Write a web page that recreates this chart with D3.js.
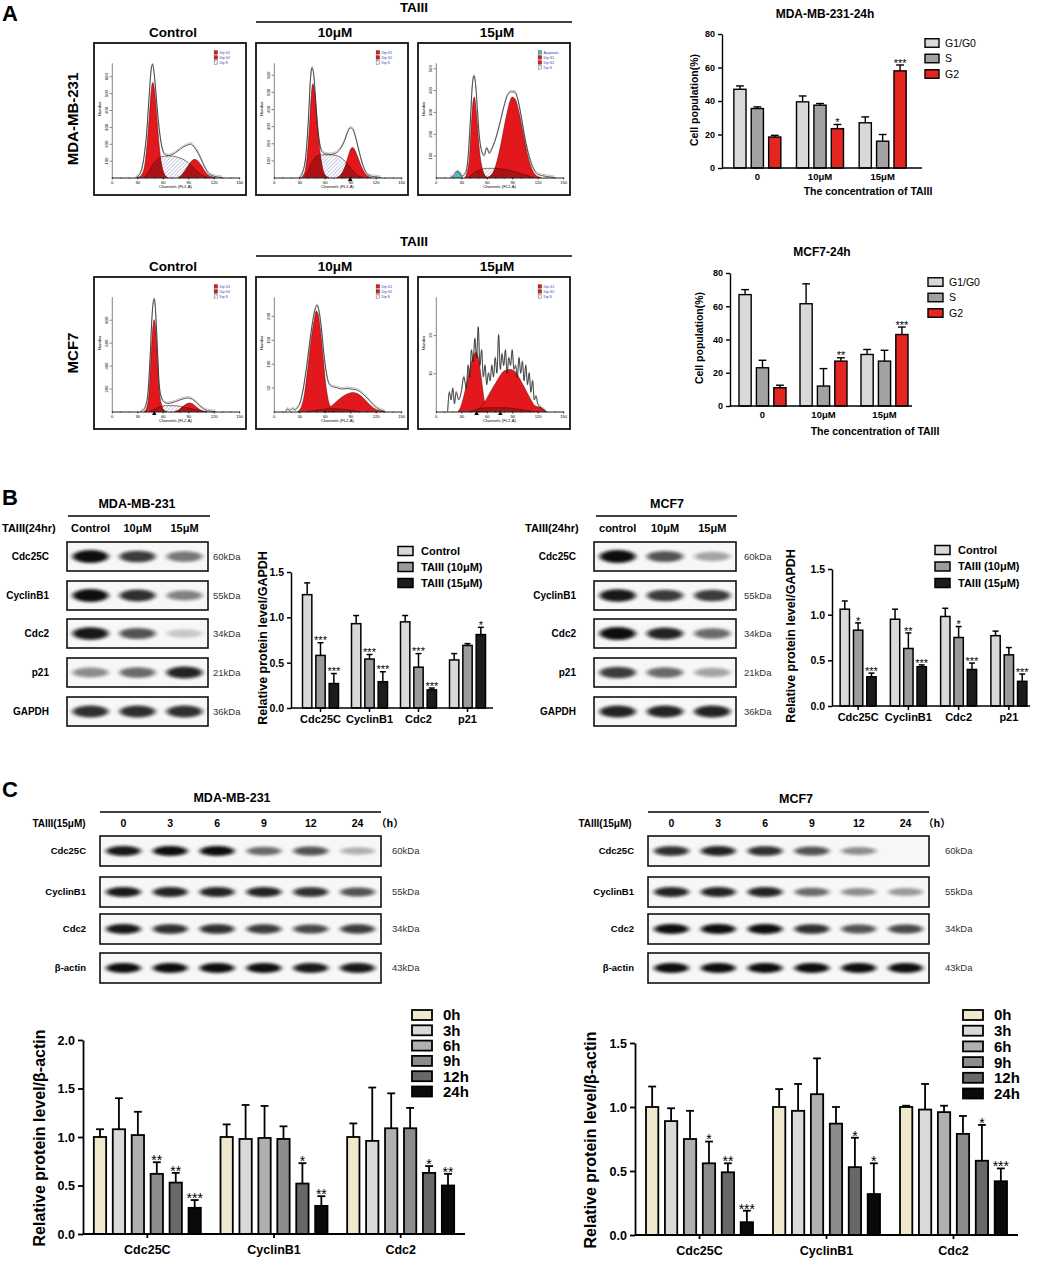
<!DOCTYPE html>
<html><head><meta charset="utf-8">
<script src="https://cdn.jsdelivr.net/npm/d3@7"></script>
<style>
html,body{margin:0;padding:0;background:#fff;}
svg{display:block;}
</style></head><body>
<svg id="fig" width="1038" height="1261"></svg>
<script>
const FONT = "'Liberation Sans', Arial, sans-serif";
const NARROW = "'Liberation Sans Narrow', 'Liberation Sans', Arial, sans-serif";

// ---------------- Panel A : flow histograms (channel, count) ----------------
const flowConds = ["Control", "10μM", "15μM"];
const flowCells = ["MDA-MB-231", "MCF7"];
const mdaCtrlG1 = [[30,0],[35,15],[39,80],[42,220],[45,420],[47,540],[48.5,563],[50,530],[52,430],[54,300],[56,180],[59,70],[62,20],[66,0]];
const mdaCtrlS  = [[38,0],[43,30],[48,75],[54,110],[60,125],[68,128],[76,122],[84,108],[90,88],[96,60],[102,30],[108,10],[114,0]];
const mdaCtrlG2 = [[78,0],[83,20],[88,55],[93,92],[97,108],[101,100],[105,75],[109,42],[113,18],[118,4],[122,0]];
const mdaCtrlTot = [[28,0],[33,20],[37,90],[41,260],[44,480],[46,620],[48,670],[50,610],[52,500],[54,380],[57,240],[60,160],[63,135],[67,130],[72,138],[78,158],[84,180],[89,192],[93,198],[97,180],[101,150],[105,110],[109,65],[113,30],[118,12],[124,4],[130,0]];
const mda10G1 = [[32,0],[36,25],[39,110],[42,300],[44,470],[46,548],[48,510],[50,400],[52,270],[55,130],[58,45],[61,12],[65,0]];
const mda10S  = [[36,0],[40,35],[45,90],[50,122],[56,132],[64,133],[72,130],[78,120],[84,95],[90,60],[95,30],[100,10],[105,0]];
const mda10G2 = [[74,0],[79,18],[84,65],[88,130],[91,170],[93,175],[96,155],[100,105],[104,55],[108,20],[112,5],[115,0]];
const mda10Tot = [[30,0],[34,30],[38,140],[41,360],[43,560],[45,640],[47,600],[49,470],[51,330],[54,200],[57,150],[61,138],[66,135],[72,140],[78,165],[83,210],[87,265],[90,290],[93,282],[96,240],[100,160],[104,85],[108,35],[112,12],[118,5],[123,3],[126,0]];
const mda15Apo = [[20,0],[23,10],[26,27],[28,18],[31,0]];
const mda15G1 = [[34,0],[37,25],[40,110],[42,250],[44,350],[45.5,368],[47,330],[49,240],[51,140],[54,55],[57,15],[61,0]];
const mda15S  = [[38,0],[44,18],[52,35],[60,42],[70,42],[80,38],[90,30],[100,18],[110,6],[116,0]];
const mda15G2 = [[60,0],[66,15],[71,60],[76,140],[81,240],[86,330],[90,368],[94,355],[98,300],[103,200],[108,105],[113,40],[118,10],[124,0]];
const mda15Tot = [[17,0],[21,8],[25,28],[28,22],[31,6],[35,20],[38,90],[41,280],[43,420],[45,465],[47,420],[49,310],[51,200],[54,120],[57,100],[60,135],[63,110],[66,130],[70,170],[75,240],[80,320],[85,380],[89,392],[93,390],[97,350],[101,270],[105,180],[110,95],[115,40],[120,15],[126,8],[134,3],[140,0]];
const mcfCtrlG1 = [[38,0],[41,30],[44,180],[46,450],[48,700],[50,800],[52,690],[54,420],[56,180],[59,50],[62,8],[65,0]];
const mcfCtrlS  = [[44,0],[50,20],[56,40],[62,50],[70,52],[78,48],[86,38],[94,24],[102,10],[108,0]];
const mcfCtrlG2 = [[74,0],[79,15],[84,45],[89,70],[92,74],[96,62],[100,38],[104,16],[108,4],[112,0]];
const mcfCtrlTot = [[34,0],[38,20],[42,120],[45,450],[47,780],[49,960],[50,980],[52,820],[54,500],[56,220],[59,110],[62,80],[66,70],[72,78],[78,95],[84,110],[90,118],[95,105],[100,75],[105,40],[110,15],[116,4],[122,0]];
const mcf10G1 = [[28,0],[32,8],[36,35],[40,90],[44,150],[48,195],[50,210],[52,205],[55,170],[58,115],[61,60],[64,25],[68,6],[72,0]];
const mcf10S  = [[40,0],[50,3],[60,5],[70,6],[80,5],[90,3],[100,0]];
const mcf10G2 = [[58,0],[65,8],[72,18],[80,30],[87,37],[93,40],[99,37],[105,29],[111,18],[117,8],[124,2],[130,0]];
const mcf10Tot = [[14,0],[16,5],[19,2],[22,6],[25,3],[28,8],[31,18],[34,40],[38,85],[42,140],[46,190],[49,215],[51,222],[53,212],[56,175],[59,120],[62,80],[65,58],[69,52],[74,50],[80,47],[86,48],[91,47],[96,46],[101,42],[106,35],[111,26],[116,16],[121,8],[126,3],[131,0]];
const mcf15G1 = [[26,0],[29,1],[33,4],[37,8],[41,12],[45,15],[48,15.5],[51,13],[54,8],[57,3],[60,0]];
const mcf15S  = [[40,0],[60,1],[80,1],[100,0.5],[115,0]];
const mcf15G2 = [[48,0],[56,2],[64,5],[72,8],[80,10.5],[87,11],[93,10.5],[99,8.5],[105,6],[111,3.5],[117,1.5],[124,1],[130,0]];
const mcf15Tot = [[14,0],[16,5],[18,3],[20,6],[22,2],[24,5],[27,3],[30,5],[33,9],[36,6],[38,12],[40,9],[42,16],[44,13],[46,19],[48,14],[50,22],[52,12],[54,16],[56,9],[58,12],[60,7],[62,10],[64,8],[66,12],[68,9],[70,14],[72,10],[74,20],[76,11],[78,15],[80,12],[82,16],[84,10],[86,14],[88,12],[90,16],[92,11],[94,12],[96,9],[98,14],[100,10],[102,13],[104,8],[106,12],[108,7],[110,10],[112,5],[114,8],[116,3],[118,4],[120,2],[124,1],[130,0]];
const flowYMax = [[680, 670, 525], [1000, 240, 30]];
const flowYTicks = [[[100,200,300,400,500,600],[100,200,300,400,500,600],[100,200,300,400,500]],[[200,400,600,800],[50,100,150,200],[10,20]]];
const flowMarkers = [[[], [90], []], [[50], [], [48, 76]]];
const flowXTicks = [0, 30, 60, 90, 120, 150];

// ---------------- Panel A : phase distribution bars ----------------
const phases = ["G1/G0", "S", "G2"];
const concLabels = ["0", "10μM", "15μM"];
const mdaPhaseMean = [[47, 35.5, 18.5], [39.5, 37.5, 23.5], [27, 16, 58]];
const mdaPhaseErr  = [[2, 1, 1], [3.5, 1, 2.5], [3.5, 4, 3.5]];
const mdaPhaseSig  = [["", "", ""], ["", "", "*"], ["", "", "***"]];
const mcfPhaseMean = [[67, 23, 11], [61.5, 12, 27], [31, 27, 43]];
const mcfPhaseErr  = [[3, 4.5, 1.5], [12, 10.5, 2], [3, 6.5, 4.5]];
const mcfPhaseSig  = [["", "", ""], ["", "", "**"], ["", "", "***"]];
const phaseTicks = [0, 20, 40, 60, 80];

// ---------------- Panel B ----------------
const blotBProteins = ["Cdc25C", "CyclinB1", "Cdc2", "p21", "GAPDH"];
const blotBkDa = ["60kDa", "55kDa", "34kDa", "21kDa", "36kDa"];
const blotBLanesMda = ["Control", "10μM", "15μM"];
const blotBLanesMcf = ["control", "10μM", "15μM"];
const blotBMda = [[1, 0.8, 0.55], [1, 0.85, 0.5], [0.95, 0.7, 0.2], [0.45, 0.6, 0.9], [0.85, 0.85, 0.85]];
const blotBMcf = [[1, 0.7, 0.35], [0.95, 0.8, 0.8], [1, 0.9, 0.6], [0.8, 0.6, 0.35], [0.9, 0.9, 0.9]];
const proteinsB = ["Cdc25C", "CyclinB1", "Cdc2", "p21"];
const treatB = ["Control", "TAIII (10μM)", "TAIII (15μM)"];
const mdaB    = [[1.25, 0.58, 0.27], [0.93, 0.54, 0.29], [0.95, 0.45, 0.20], [0.53, 0.69, 0.81]];
const mdaBErr = [[0.13, 0.14, 0.11], [0.09, 0.05, 0.11], [0.07, 0.15, 0.02], [0.07, 0.02, 0.08]];
const mdaBSig = [["", "***", "***"], ["", "***", "***"], ["", "***", "***"], ["", "", "*"]];
const mcfB    = [[1.06, 0.83, 0.32], [0.95, 0.63, 0.43], [0.98, 0.75, 0.40], [0.77, 0.56, 0.27]];
const mcfBErr = [[0.09, 0.08, 0.04], [0.11, 0.17, 0.02], [0.09, 0.12, 0.07], [0.05, 0.08, 0.08]];
const mcfBSig = [["", "*", "***"], ["", "**", "***"], ["", "*", "***"], ["", "", "***"]];
const relTicks15 = [0, 0.5, 1.0, 1.5];

// ---------------- Panel C ----------------
const blotCProteins = ["Cdc25C", "CyclinB1", "Cdc2", "β-actin"];
const blotCkDa = ["60kDa", "55kDa", "34kDa", "43kDa"];
const blotCLanes = ["0", "3", "6", "9", "12", "24"];
const blotCMda = [[0.95, 1, 1, 0.6, 0.7, 0.3], [0.95, 0.9, 0.9, 0.9, 0.85, 0.7], [0.95, 0.85, 0.85, 0.8, 0.75, 0.8], [1, 1, 1, 1, 0.95, 0.95]];
const blotCMcf = [[0.85, 0.9, 0.85, 0.7, 0.45, 0], [0.9, 0.9, 0.9, 0.6, 0.45, 0.4], [1, 1, 1, 0.85, 0.7, 0.75], [1, 1, 1, 1, 1, 1]];
const hoursC = ["0h", "3h", "6h", "9h", "12h", "24h"];
const proteinsC = ["Cdc25C", "CyclinB1", "Cdc2"];
const mdaC    = [[1.0, 1.08, 1.02, 0.62, 0.53, 0.27], [1.0, 0.98, 0.99, 0.98, 0.52, 0.29], [1.0, 0.96, 1.09, 1.09, 0.63, 0.50]];
const mdaCErr = [[0.08, 0.32, 0.24, 0.12, 0.10, 0.08], [0.13, 0.35, 0.33, 0.13, 0.21, 0.10], [0.14, 0.55, 0.36, 0.21, 0.07, 0.12]];
const mdaCSig = [["", "", "", "**", "**", "***"], ["", "", "", "", "*", "**"], ["", "", "", "", "*", "**"]];
const mcfC    = [[1.0, 0.89, 0.75, 0.56, 0.49, 0.10], [1.0, 0.97, 1.10, 0.87, 0.53, 0.32], [1.0, 0.98, 0.96, 0.79, 0.58, 0.42]];
const mcfCErr = [[0.16, 0.10, 0.22, 0.17, 0.07, 0.09], [0.14, 0.21, 0.28, 0.13, 0.23, 0.24], [0.01, 0.20, 0.05, 0.14, 0.28, 0.10]];
const mcfCSig = [["", "", "", "*", "**", "***"], ["", "", "", "", "*", "*"], ["", "", "", "", "*", "***"]];
const relTicks20 = [0, 0.5, 1.0, 1.5, 2.0];

// colours
const phaseColors = ["#d9d9d9", "#a2a2a5", "#e42620"];
const treatColors = ["#d9d9d9", "#9b9b9b", "#1c1c1c"];
const hourColors = ["#efe8cc", "#d9d9d9", "#b0b0b2", "#8c8c8e", "#68686a", "#0a0a0a"];

// =====================================================================
const svg = d3.select("#fig").attr("font-family", FONT);
const defs = svg.append("defs");
const pat = defs.append("pattern").attr("id", "hatch").attr("patternUnits", "userSpaceOnUse")
  .attr("width", 2.6).attr("height", 2.6).attr("patternTransform", "rotate(45)");
pat.append("rect").attr("width", 2.6).attr("height", 2.6).attr("fill", "#fff");
pat.append("line").attr("x1", 0).attr("y1", 0).attr("x2", 0).attr("y2", 2.6).attr("stroke", "#4753a6").attr("stroke-width", 0.6);
defs.append("filter").attr("id", "blur").attr("x", "-50%").attr("y", "-150%").attr("width", "200%").attr("height", "400%")
  .append("feGaussianBlur").attr("stdDeviation", "2.4 1.5");

function txt(g, x, y, s, o = {}) {
  const t = g.append("text").attr("x", x).attr("y", y).text(s)
    .attr("font-size", o.size || 10).attr("font-weight", o.weight || "bold")
    .attr("text-anchor", o.anchor || "middle").attr("fill", o.fill || "#000");
  if (o.family) t.attr("font-family", o.family);
  if (o.rotate) t.attr("transform", `rotate(-90,${x},${y})`);
  return t;
}
function styleAxis(ax, size, weight, sw) {
  ax.attr("font-size", size).attr("font-family", FONT).attr("font-weight", weight);
  ax.selectAll("text").attr("fill", "#000");
  ax.selectAll("line").attr("stroke", "#000").attr("stroke-width", sw);
  ax.select(".domain").attr("stroke", "#000").attr("stroke-width", sw);
}

// ---------------- flow histogram drawing ----------------
let clipId = 0;
function flowPlot(box, d) {
  const g = svg.append("g");
  g.append("rect").attr("x", box.x).attr("y", box.y).attr("width", box.w).attr("height", box.h)
    .attr("fill", "#fff").attr("stroke", "#111").attr("stroke-width", 1.8);
  const x = d3.scaleLinear().domain([0, 150]).range([box.x + box.w * 0.117, box.x + box.w * 0.955]);
  const y = d3.scaleLinear().domain([0, d.yMax]).range([box.y + box.h * 0.885, box.y + box.h * 0.13]);
  const area = d3.area().x(p => x(p[0])).y0(y(0)).y1(p => y(p[1])).curve(d3.curveMonotoneX);
  const line = d3.line().x(p => x(p[0])).y(p => y(p[1])).curve(d3.curveMonotoneX);
  g.append("path").attr("d", area(d.s)).attr("fill", "url(#hatch)");
  const cid = "fc" + (clipId++);
  const cp = defs.append("clipPath").attr("id", cid);
  [d.g1, d.g2].forEach(a => {
    g.append("path").attr("d", area(a)).attr("fill", "#e2181c").attr("stroke", "#5a0808").attr("stroke-width", 0.5);
    cp.append("path").attr("d", area(a));
  });
  g.append("path").attr("d", area(d.s)).attr("fill", "#6a0a0a").attr("opacity", 0.45).attr("clip-path", `url(#${cid})`);
  g.append("path").attr("d", line(d.s)).attr("fill", "none").attr("stroke", "#5a0a0a").attr("stroke-width", 0.6);
  if (d.apo) g.append("path").attr("d", area(d.apo)).attr("fill", "#3cc3cc").attr("stroke", "#0a5a5a").attr("stroke-width", 0.4);
  g.append("path").attr("d", line(d.tot)).attr("fill", "none").attr("stroke", "#888").attr("stroke-width", 0.5).attr("transform", "translate(0,-1.5)");
  g.append("path").attr("d", line(d.tot)).attr("fill", "none").attr("stroke", "#1a1a1a").attr("stroke-width", 0.75);
  // axes
  const xm = g.append("g").attr("transform", `translate(0,${y(0)})`)
    .call(d3.axisBottom(x).tickValues(d3.range(0, 151, 10)).tickSize(1.2).tickFormat("").tickSizeOuter(0));
  styleAxis(xm, 4, "normal", 0.5);
  const xa = g.append("g").attr("transform", `translate(0,${y(0)})`)
    .call(d3.axisBottom(x).tickValues(flowXTicks).tickSize(2.2).tickPadding(1.5).tickSizeOuter(0));
  styleAxis(xa, 4.2, "normal", 0.5);
  const ya = g.append("g").attr("transform", `translate(${x(0)},0)`)
    .call(d3.axisLeft(y).tickValues(d.yTicks).tickSize(2.2).tickPadding(1.5).tickSizeOuter(0));
  styleAxis(ya, 4.2, "normal", 0.5);
  ya.selectAll(".tick text").attr("text-anchor", "middle").attr("dy", 0).attr("x", -4)
    .attr("transform", "rotate(-90,-4,0)");
  d.markers.forEach(m => g.append("path").attr("d", d3.symbol(d3.symbolTriangle, 9)())
    .attr("transform", `translate(${x(m)},${y(0) + 2.2})`).attr("fill", "#000"));
  txt(g, x(75), box.y + box.h * 0.955, "Channels (FL2-A)", { size: 4.2, weight: "normal" });
  txt(g, box.x + box.w * 0.045, y(d.yMax * 0.6), "Number", { size: 4.2, weight: "normal", rotate: true });
  // legend
  const lx = box.x + box.w * 0.79;
  d.legend.forEach((l, i) => {
    const ly = box.y + box.h * (0.05 + i * 0.033);
    g.append("rect").attr("x", lx).attr("y", ly).attr("width", 3.6).attr("height", 3.6)
      .attr("fill", l.fill).attr("stroke", "#222").attr("stroke-width", 0.3);
    txt(g, lx + 5.5, ly + 3.1, l.name, { size: 3.4, weight: "normal", anchor: "start", fill: "#2a3aa8" });
  });
}

const flowBoxX = [94, 256, 418], flowBoxW = 152, flowBoxH = 152, flowRowY = [43, 277];
const flowSeries = [
  [{ g1: mdaCtrlG1, s: mdaCtrlS, g2: mdaCtrlG2, tot: mdaCtrlTot }, { g1: mda10G1, s: mda10S, g2: mda10G2, tot: mda10Tot }, { g1: mda15G1, s: mda15S, g2: mda15G2, tot: mda15Tot, apo: mda15Apo }],
  [{ g1: mcfCtrlG1, s: mcfCtrlS, g2: mcfCtrlG2, tot: mcfCtrlTot }, { g1: mcf10G1, s: mcf10S, g2: mcf10G2, tot: mcf10Tot }, { g1: mcf15G1, s: mcf15S, g2: mcf15G2, tot: mcf15Tot }]
];
const baseLegend = [{ name: "Dip G1", fill: "#e2181c" }, { name: "Dip G2", fill: "#e2181c" }, { name: "Dip S", fill: "url(#hatch)" }];

txt(svg, 2, 21, "A", { size: 22, anchor: "start" });
flowCells.forEach((cell, r) => {
  const by = flowRowY[r];
  txt(svg, 414, by - 31, "TAIII", { size: 13.5, family: NARROW });
  svg.append("line").attr("x1", 256).attr("x2", 572).attr("y1", by - 21).attr("y2", by - 21).attr("stroke", "#000").attr("stroke-width", 1.5);
  txt(svg, 73, by + 76, cell, { size: 15, family: NARROW, rotate: true }).attr("dy", "0.35em");
  flowConds.forEach((cond, c) => {
    const box = { x: flowBoxX[c], y: by, w: flowBoxW, h: flowBoxH };
    txt(svg, box.x + box.w / 2 + 3, by - 6, cond, { size: 13.5, family: NARROW });
    const s = flowSeries[r][c];
    const legend = s.apo ? [{ name: "Apoptosis", fill: "#3cc3cc" }].concat(baseLegend) : baseLegend;
    flowPlot(box, Object.assign({}, s, { yMax: flowYMax[r][c], yTicks: flowYTicks[r][c], markers: flowMarkers[r][c], legend }));
  });
});

// ---------------- generic grouped bar chart ----------------
function barChart(c) {
  const g = svg.append("g");
  const y = d3.scaleLinear().domain([0, c.yMax]).range([c.yBase, c.yTop]);
  const x0 = d3.scaleBand().domain(c.groups).range(c.band);
  const x1 = d3.scaleBand().domain(d3.range(c.colors.length)).range([-c.half, c.half]).paddingInner(c.pad);
  const bw = x1.bandwidth();
  c.groups.forEach((grp, gi) => {
    const gc = x0(grp) + x0.bandwidth() / 2;
    c.colors.forEach((col, si) => {
      const v = c.means[gi][si], e = c.errs[gi][si];
      const bx = gc + x1(si), mx = bx + bw / 2;
      g.append("line").attr("x1", mx).attr("x2", mx).attr("y1", y(v)).attr("y2", y(v + e)).attr("stroke", "#000").attr("stroke-width", c.sw);
      g.append("line").attr("x1", mx - bw * 0.32).attr("x2", mx + bw * 0.32).attr("y1", y(v + e)).attr("y2", y(v + e)).attr("stroke", "#000").attr("stroke-width", c.sw);
      g.append("rect").attr("x", bx).attr("y", y(v)).attr("width", bw).attr("height", c.yBase - y(v))
        .attr("fill", col).attr("stroke", "#000").attr("stroke-width", c.sw);
      const s = c.sigs[gi][si];
      if (s) txt(g, mx, y(v + e) - 3 + c.starSize * 0.42, s, { size: c.starSize, weight: "normal" });
    });
  });
  g.append("line").attr("x1", c.axisX).attr("x2", c.axisEnd).attr("y1", c.yBase).attr("y2", c.yBase).attr("stroke", "#000").attr("stroke-width", c.sw);
  const xa = g.append("g").attr("transform", `translate(0,${c.yBase})`)
    .call(d3.axisBottom(x0).tickSize(c.xTick).tickPadding(c.xPad).tickSizeOuter(0));
  styleAxis(xa, c.xSize, "bold", c.sw);
  xa.select(".domain").remove();
  const ya = g.append("g").attr("transform", `translate(${c.axisX},0)`)
    .call(d3.axisLeft(y).tickValues(c.yTicks).tickFormat(c.fmt).tickSize(c.yTick).tickPadding(c.yPad).tickSizeOuter(0));
  styleAxis(ya, c.ySize, "bold", c.sw);
  txt(g, c.titleX, c.titleY, c.yTitle, { size: c.titleSize, rotate: true });
  c.legendNames.forEach((nm, i) => {
    const cy = c.legY[0] + i * c.legY[1];
    g.append("rect").attr("x", c.legX).attr("y", cy - c.legH / 2).attr("width", c.legW).attr("height", c.legH)
      .attr("fill", c.colors[i]).attr("stroke", "#000").attr("stroke-width", c.sw);
    txt(g, c.legX + c.legW + c.legGap, cy + c.legSize * 0.36, nm, { size: c.legSize, weight: c.legWeight, anchor: "start" });
  });
  return g;
}

// Panel A bar charts
txt(svg, 825, 18, "MDA-MB-231-24h", { size: 12 });
barChart({ groups: concLabels, colors: phaseColors, means: mdaPhaseMean, errs: mdaPhaseErr, sigs: mdaPhaseSig,
  yMax: 80, yBase: 168, yTop: 34, band: [726, 914], half: 23.5, pad: 0.3, sw: 1.4, starSize: 11,
  axisX: 722, axisEnd: 922, xTick: 0, xPad: 5.5, xSize: 9.5, yTicks: phaseTicks, fmt: d3.format("d"), yTick: 4, yPad: 3, ySize: 9,
  titleX: 698, titleY: 100, yTitle: "Cell population(%)", titleSize: 10.5,
  legendNames: phases, legX: 925, legY: [43, 15.5], legW: 14, legH: 8.5, legGap: 6, legSize: 10.5, legWeight: "normal" });
txt(svg, 868, 195, "The concentration of TAIII", { size: 10.5 });

txt(svg, 822, 256, "MCF7-24h", { size: 12 });
barChart({ groups: concLabels, colors: phaseColors, means: mcfPhaseMean, errs: mcfPhaseErr, sigs: mcfPhaseSig,
  yMax: 80, yBase: 406, yTop: 273, band: [732, 915], half: 23.5, pad: 0.3, sw: 1.4, starSize: 11,
  axisX: 730, axisEnd: 912, xTick: 0, xPad: 5.5, xSize: 9.5, yTicks: phaseTicks, fmt: d3.format("d"), yTick: 4, yPad: 3, ySize: 9,
  titleX: 703, titleY: 338, yTitle: "Cell population(%)", titleSize: 10.5,
  legendNames: phases, legX: 928, legY: [282, 15.5], legW: 15, legH: 8.5, legGap: 6, legSize: 10.5, legWeight: "normal" });
txt(svg, 875, 435, "The concentration of TAIII", { size: 10.5 });

// ---------------- western blot drawing ----------------
function blotPanel(o) {
  const g = svg.append("g");
  const lane = d3.scalePoint().domain(o.lanes).range([o.x, o.x + o.w]).padding(0.5);
  txt(g, o.titleX, o.titleY, o.title, { size: 12.5 });
  g.append("line").attr("x1", o.lineX[0]).attr("x2", o.lineX[1]).attr("y1", o.lineY).attr("y2", o.lineY).attr("stroke", "#000").attr("stroke-width", 1.5);
  txt(g, o.treatX, o.laneY, o.treat, { size: o.treatSize, anchor: o.treatAnchor });
  o.lanes.forEach(l => txt(g, lane(l), o.laneY, l, { size: o.laneSize }));
  if (o.unit) txt(g, o.unitX, o.laneY, o.unit, { size: o.laneSize, anchor: "start", family: "'Noto Sans CJK SC', " + FONT });
  o.proteins.forEach((p, r) => {
    const ry = o.rowY[r];
    const cid = "bc" + (clipId++);
    defs.append("clipPath").attr("id", cid).append("rect").attr("x", o.x).attr("y", ry).attr("width", o.w).attr("height", o.h);
    g.append("rect").attr("x", o.x).attr("y", ry).attr("width", o.w).attr("height", o.h).attr("fill", "#f7f7f7");
    const bg = g.append("g").attr("clip-path", `url(#${cid})`);
    o.intens[r].forEach((v, i) => {
      bg.append("ellipse").attr("cx", lane(o.lanes[i])).attr("cy", ry + o.h * 0.5)
        .attr("rx", lane.step() * o.rx).attr("ry", o.h * o.ry * (0.6 + 0.4 * v))
        .attr("fill", "#0a0a0a").attr("opacity", v).attr("filter", "url(#blur)");
    });
    g.append("rect").attr("x", o.x).attr("y", ry).attr("width", o.w).attr("height", o.h)
      .attr("fill", "none").attr("stroke", "#111").attr("stroke-width", 1.6);
    txt(g, o.labelX, ry + o.h / 2 + 3.4, p, { size: o.labelSize, anchor: "end" });
    txt(g, o.kdaX, ry + o.h / 2 + 3.4, o.kda[r], { size: 9.5, weight: "normal", anchor: "start", fill: "#333" });
  });
}

// Panel B
txt(svg, 2, 505, "B", { size: 22, anchor: "start" });
const rowsB = [542, 581, 619, 658, 697];
blotPanel({ title: "MDA-MB-231", titleX: 137, titleY: 508, lineX: [68, 210], lineY: 516,
  treat: "TAIII(24hr)", treatX: 2, treatAnchor: "start", treatSize: 11, laneY: 532, laneSize: 11,
  lanes: blotBLanesMda, x: 67, w: 141, rowY: rowsB, h: 29, proteins: blotBProteins, kda: blotBkDa,
  intens: blotBMda, labelX: 49, labelSize: 10, kdaX: 213, rx: 0.38, ry: 0.22 });
blotPanel({ title: "MCF7", titleX: 667, titleY: 508, lineX: [596, 737], lineY: 516,
  treat: "TAIII(24hr)", treatX: 525, treatAnchor: "start", treatSize: 11, laneY: 532, laneSize: 11,
  lanes: blotBLanesMcf, x: 594, w: 142, rowY: rowsB, h: 29, proteins: blotBProteins, kda: blotBkDa,
  intens: blotBMcf, labelX: 576, labelSize: 10, kdaX: 744, rx: 0.38, ry: 0.22 });

barChart({ groups: proteinsB, colors: treatColors, means: mdaB, errs: mdaBErr, sigs: mdaBSig,
  yMax: 1.5, yBase: 708, yTop: 572, band: [296, 492], half: 18, pad: 0.3, sw: 1.5, starSize: 11,
  axisX: 291, axisEnd: 493, xTick: 4, xPad: 3.5, xSize: 11, yTicks: relTicks15, fmt: d3.format(".1f"), yTick: 4, yPad: 3, ySize: 10.5,
  titleX: 267, titleY: 638, yTitle: "Relative protein level/GAPDH", titleSize: 12.5,
  legendNames: treatB, legX: 398, legY: [551, 16], legW: 15, legH: 9, legGap: 8, legSize: 11, legWeight: "bold" });
barChart({ groups: proteinsB, colors: treatColors, means: mcfB, errs: mcfBErr, sigs: mcfBSig,
  yMax: 1.5, yBase: 706, yTop: 569, band: [833, 1034], half: 18, pad: 0.3, sw: 1.5, starSize: 11,
  axisX: 832, axisEnd: 1030, xTick: 4, xPad: 3.5, xSize: 11, yTicks: relTicks15, fmt: d3.format(".1f"), yTick: 4, yPad: 3, ySize: 10.5,
  titleX: 795, titleY: 636, yTitle: "Relative protein level/GAPDH", titleSize: 12.5,
  legendNames: treatB, legX: 935, legY: [550, 16.5], legW: 15, legH: 9, legGap: 8, legSize: 11, legWeight: "bold" });

// Panel C
txt(svg, 2, 797, "C", { size: 22, anchor: "start" });
const rowsC = [836, 877, 914, 953];
blotPanel({ title: "MDA-MB-231", titleX: 232, titleY: 802, lineX: [100, 381], lineY: 812,
  treat: "TAIII(15μM)", treatX: 59, treatAnchor: "middle", treatSize: 10, laneY: 827, laneSize: 10.5,
  unit: "（h）", unitX: 376,
  lanes: blotCLanes, x: 100, w: 281, rowY: rowsC, h: 30, proteins: blotCProteins, kda: blotCkDa,
  intens: blotCMda, labelX: 86, labelSize: 9.5, kdaX: 392, rx: 0.37, ry: 0.17 });
blotPanel({ title: "MCF7", titleX: 796, titleY: 803, lineX: [648, 929], lineY: 812,
  treat: "TAIII(15μM)", treatX: 605, treatAnchor: "middle", treatSize: 10, laneY: 827, laneSize: 10.5,
  unit: "（h）", unitX: 923,
  lanes: blotCLanes, x: 648, w: 281, rowY: rowsC, h: 30, proteins: blotCProteins, kda: blotCkDa,
  intens: blotCMcf, labelX: 634, labelSize: 9.5, kdaX: 945, rx: 0.37, ry: 0.17 });

barChart({ groups: proteinsC, colors: hourColors, means: mdaC, errs: mdaCErr, sigs: mdaCSig,
  yMax: 2.0, yBase: 1234, yTop: 1040, band: [84, 464], half: 53.5, pad: 0.35, sw: 1.8, starSize: 14,
  axisX: 83, axisEnd: 465, xTick: 4, xPad: 7, xSize: 12.5, yTicks: relTicks20, fmt: d3.format(".1f"), yTick: 5, yPad: 3, ySize: 12.5,
  titleX: 45, titleY: 1138, yTitle: "Relative protein level/β-actin", titleSize: 16,
  legendNames: hoursC, legX: 412, legY: [1015, 15.3], legW: 20, legH: 10, legGap: 11, legSize: 15, legWeight: "bold" });
barChart({ groups: proteinsC, colors: hourColors, means: mcfC, errs: mcfCErr, sigs: mcfCSig,
  yMax: 1.5, yBase: 1235, yTop: 1043, band: [636, 1017], half: 53.5, pad: 0.35, sw: 1.8, starSize: 14,
  axisX: 635, axisEnd: 1018, xTick: 4, xPad: 7, xSize: 12.5, yTicks: relTicks15, fmt: d3.format(".1f"), yTick: 5, yPad: 3, ySize: 12.5,
  titleX: 596, titleY: 1140, yTitle: "Relative protein level/β-actin", titleSize: 16,
  legendNames: hoursC, legX: 963, legY: [1015, 15.7], legW: 20, legH: 10, legGap: 11, legSize: 15, legWeight: "bold" });
</script>
</body></html>
